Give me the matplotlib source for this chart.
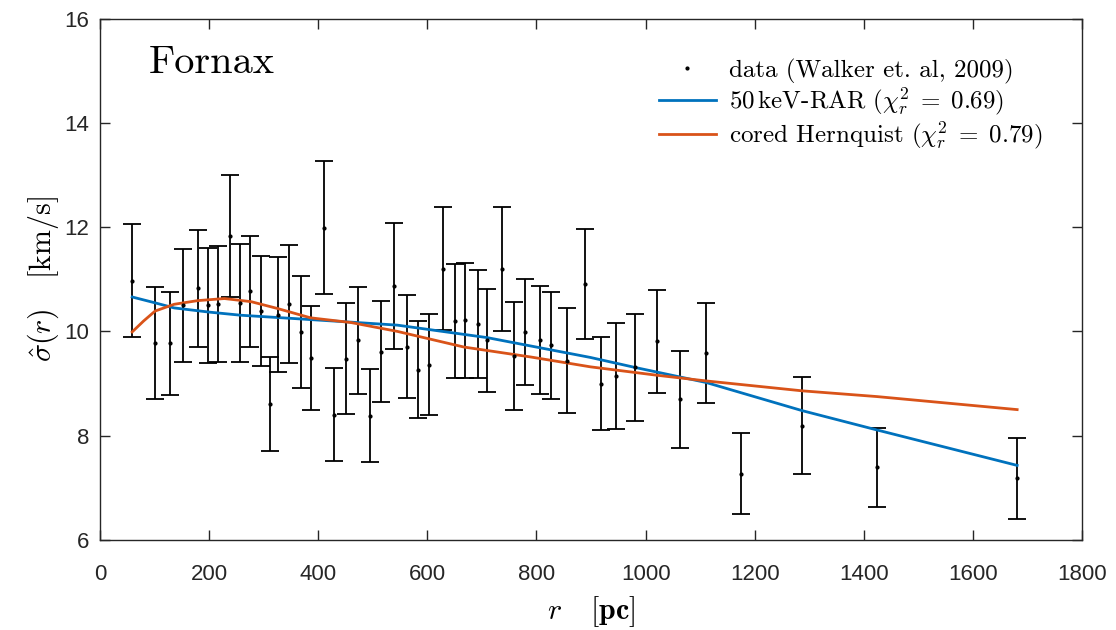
import numpy as np
import matplotlib
matplotlib.use("Agg")
import matplotlib.pyplot as plt
from matplotlib.lines import Line2D

plt.rcParams['mathtext.fontset'] = 'cm'
plt.rcParams['axes.unicode_minus'] = False

# Walker et al. (2009) dispersion profile for Fornax
r_data = [59, 101, 129, 153, 180, 198, 216, 239, 257, 275, 296, 312, 327, 347,
          368, 386, 410, 428, 450, 473, 494, 515, 539, 562, 583, 603, 628, 651,
          669, 693, 710, 737, 759, 779, 806, 827, 856, 889, 918, 946, 980, 1020,
          1063, 1111, 1175, 1287, 1424, 1681]
sigma_data = [10.97, 9.78, 9.77, 10.50, 10.83, 10.50, 10.52, 11.83, 10.54, 10.77,
              10.39, 8.61, 10.32, 10.53, 9.99, 9.49, 11.99, 8.40, 9.48, 9.83,
              8.38, 9.61, 10.87, 9.71, 9.26, 9.36, 11.20, 10.20, 10.21, 10.14,
              9.83, 11.20, 9.53, 9.99, 9.84, 9.73, 9.44, 10.91, 9.00, 9.14,
              9.31, 9.81, 8.70, 9.59, 7.27, 8.19, 7.39, 7.18]
sigma_err = [1.08, 1.07, 0.99, 1.08, 1.12, 1.10, 1.11, 1.17, 1.13, 1.06,
             1.06, 0.90, 1.10, 1.13, 1.08, 1.00, 1.28, 0.89, 1.06, 1.03,
             0.89, 0.97, 1.20, 0.99, 0.93, 0.97, 1.18, 1.10, 1.10, 1.04,
             0.99, 1.19, 1.04, 1.01, 1.04, 1.02, 1.00, 1.06, 0.89, 1.02,
             1.03, 0.99, 0.93, 0.96, 0.78, 0.93, 0.75, 0.78]

# 50 keV RAR model
r_rar = [59, 100, 136, 200, 258, 350, 441, 545, 710, 899, 980, 1111, 1287, 1424, 1681]
sigma_rar = [10.66, 10.55, 10.45, 10.37, 10.31, 10.25, 10.19, 10.12, 9.88, 9.50,
             9.31, 9.02, 8.48, 8.11, 7.43]

# cored Hernquist model
r_her = [59, 80, 101, 136, 179, 228, 277, 325, 386, 460, 545, 667, 789, 899,
         1020, 1111, 1287, 1424, 1681]
sigma_her = [9.99, 10.20, 10.39, 10.52, 10.59, 10.63, 10.57, 10.44, 10.26, 10.17,
             10.00, 9.70, 9.51, 9.32, 9.16, 9.05, 8.86, 8.75, 8.50]

labels = ['data (Walker et. al, 2009)',
          r'50$\,$keV-RAR ($\chi^2_r\;=\;0.69$)',
          r'cored Hernquist ($\chi^2_r\;=\;0.79$)']

blue = '#0072BD'
orange = '#D95319'
axcol = '#262626'

fig = plt.figure(figsize=(11.16, 6.3), dpi=100)
ax = fig.add_axes([0.0896, 0.1429, 0.88, 0.8277])

ax.errorbar(r_data, sigma_data, yerr=sigma_err, fmt='.', color='black',
            ms=4, elinewidth=1.3, capsize=6.5, capthick=1.3)
ax.plot(r_rar, sigma_rar, color=blue, lw=2.0)
ax.plot(r_her, sigma_her, color=orange, lw=2.0)

ax.set_xlim(0, 1800)
ax.set_ylim(6, 16)
ax.set_xticks(np.arange(0, 1801, 200))
ax.set_yticks(np.arange(6, 17, 2))
ax.tick_params(direction='in', length=7, width=1, top=True, right=True,
               colors=axcol, labelsize=16)
ax.tick_params(axis='x', pad=17)
ax.tick_params(axis='y', pad=8)
for lab in ax.get_xticklabels() + ax.get_yticklabels():
    lab.set_fontfamily('Liberation Sans')
for sp in ax.spines.values():
    sp.set_color(axcol)
    sp.set_linewidth(1.0)

ax.set_xlabel(r'$r$   [$\mathbf{pc}$]', fontsize=21.5, family='cmr10', labelpad=7)
ax.set_ylabel(r'$\hat{\sigma}(r)$   [km/s]', fontsize=21.5, family='cmr10', labelpad=2)

ax.text(0.05, 0.895, 'Fornax', transform=ax.transAxes, fontsize=29,
        family='cmr10', color='black')

handles = [Line2D([], [], ls='none', marker='.', ms=4, color='black'),
           Line2D([], [], color=blue, lw=2.0),
           Line2D([], [], color=orange, lw=2.0)]
ax.legend(handles, labels, loc='upper right', frameon=False,
          prop={'family': 'cmr10', 'size': 18}, handlelength=2.3,
          handletextpad=0.5, labelspacing=0.08, borderaxespad=1.2)

fig.savefig('out.png', dpi=100)
